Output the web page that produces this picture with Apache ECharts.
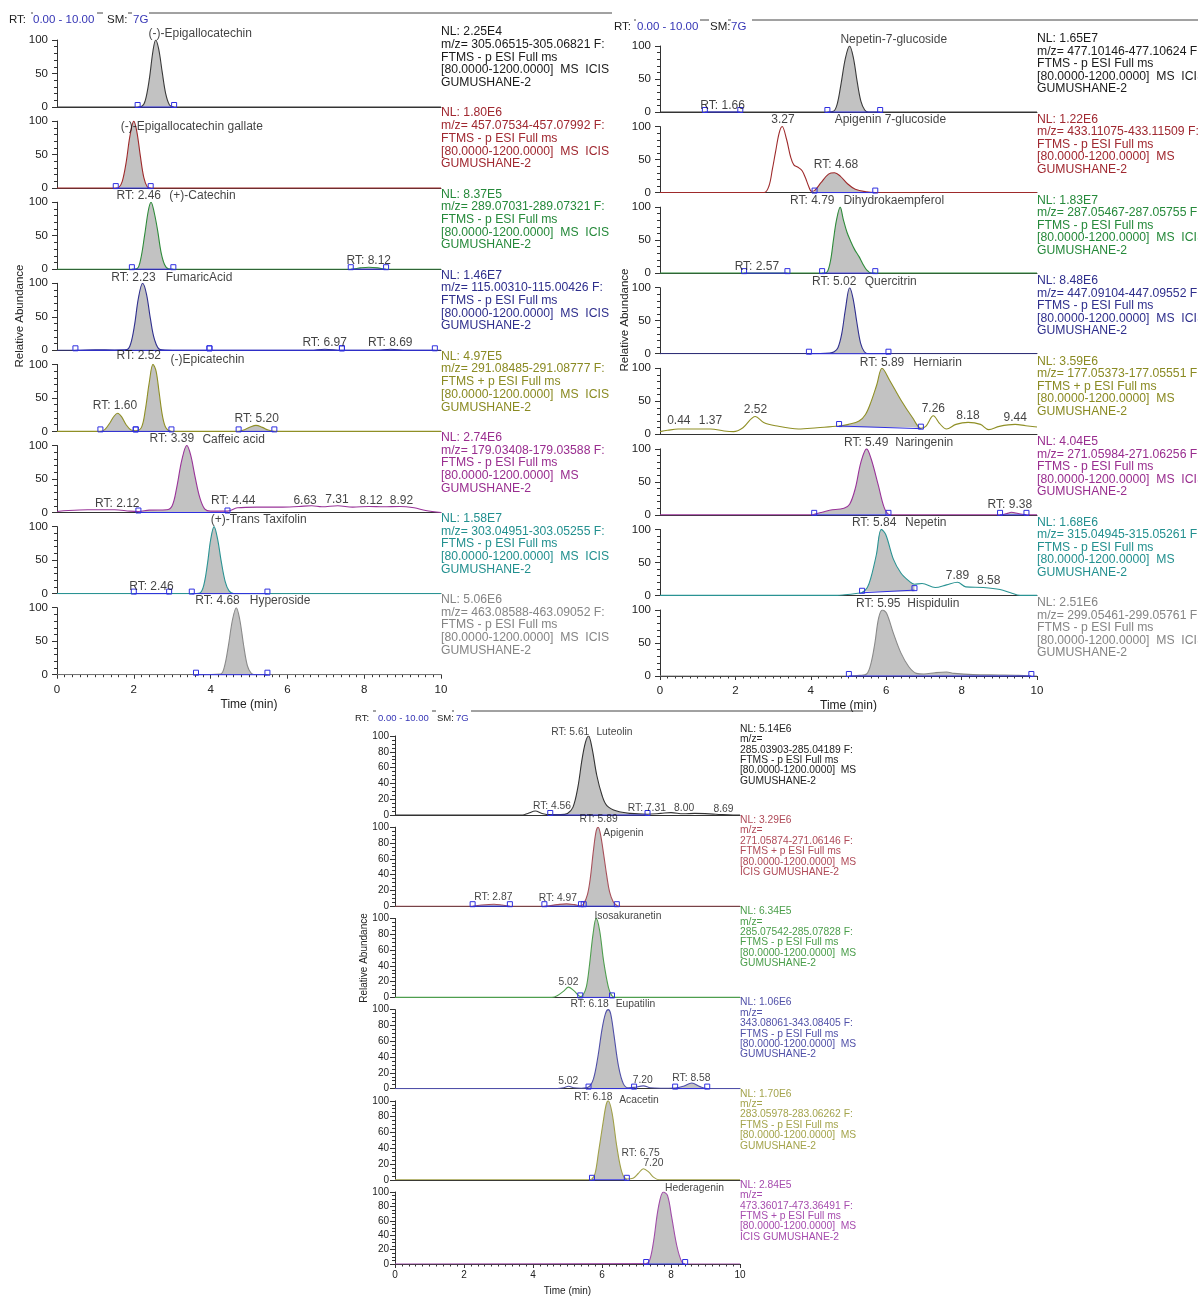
<!DOCTYPE html>
<html><head><meta charset="utf-8">
<script src="https://cdn.jsdelivr.net/npm/echarts@6/dist/echarts.min.js"></script>
<style>html,body{margin:0;padding:0;background:#fff}#c{width:1198px;height:1297px}</style>
</head><body><div id="c"></div>
<script>
// ================= DATA =================
// Traces: [time (min), relative abundance (%)]
// ---- left block ----
const epigallocatechin = [[0,0],[2.1,0],[2.21,1],[2.3,10],[2.4,40],[2.5,84],[2.57,100],[2.65,86],[2.74,52],[2.83,20],[2.93,3],[3.05,0],[10,0]];
const egcGallate = [[0,0],[1.53,0],[1.61,1],[1.7,10],[1.8,38],[1.9,78],[2.0,100],[2.08,84],[2.17,48],[2.26,16],[2.35,2],[2.44,0],[10,0]];
const catechin = [[0,0],[1.95,0],[2.09,1],[2.18,15],[2.28,50],[2.38,88],[2.45,100],[2.53,85],[2.62,58],[2.71,25],[2.8,7],[2.9,0.5],[3.03,0],[7.65,0],[7.9,2],[8.12,3],[8.35,2],[8.57,0],[10,0]];
const fumaricAcid = [[0,0],[0.48,0],[1.0,0.8],[1.5,0.5],[1.82,1],[1.92,10],[2.02,38],[2.12,78],[2.23,100],[2.33,84],[2.43,48],[2.54,16],[2.69,1],[3.0,0],[3.97,0],[6.6,0],[6.97,1.5],[7.42,0],[8.3,0],[8.69,1.5],[9.1,0],[9.84,0],[10,0]];
const epicatechin = [[0,0],[1.13,0],[1.25,3],[1.38,13],[1.49,23],[1.58,27],[1.68,22],[1.8,10],[1.93,2],[2.05,1],[2.2,6],[2.3,32],[2.4,72],[2.5,100],[2.58,90],[2.66,58],[2.75,22],[2.84,5],[2.98,0],[4.73,0],[4.9,3],[5.05,7],[5.18,9],[5.35,6],[5.5,2],[5.66,0],[10,0]];
const caffeicAcid = [[0,1.5],[0.3,3],[0.8,4],[1.5,4],[1.9,2],[2.12,1.5],[2.4,3.5],[2.85,4],[3.0,10],[3.12,38],[3.25,78],[3.38,100],[3.48,86],[3.6,52],[3.72,22],[3.85,5],[4.0,2],[4.44,2],[4.7,7],[5.2,8],[5.8,8],[6.3,9],[6.63,10],[6.9,8.5],[7.31,10],[7.7,8],[8.12,9],[8.5,8.5],[8.92,9],[9.3,7],[9.6,3],[10,0]];
const transTaxifolin = [[0,0],[3.51,0],[3.72,1],[3.82,12],[3.92,45],[4.0,80],[4.09,100],[4.18,82],[4.28,47],[4.38,18],[4.48,4],[4.6,0],[5.48,0],[10,0]];
const hyperoside = [[0,0],[3.62,0],[4.26,1],[4.36,12],[4.46,42],[4.57,82],[4.67,100],[4.76,82],[4.86,44],[4.96,13],[5.06,2],[5.15,0],[5.48,0],[10,0]];
// ---- right block ----
const nepetin7Glucoside = [[0,0],[4.44,0],[4.6,1],[4.7,12],[4.8,42],[4.92,82],[5.03,100],[5.13,82],[5.23,46],[5.33,16],[5.43,3],[5.52,0],[5.84,0],[10,0]];
const apigenin7Glucoside = [[0,0],[2.76,0],[2.89,10],[2.98,35],[3.06,60],[3.16,90],[3.24,100],[3.36,80],[3.46,55],[3.55,42],[3.67,38],[3.77,33],[3.86,22],[3.94,10],[4.02,2],[4.1,3],[4.27,15],[4.47,28],[4.63,30],[4.78,25],[4.98,13],[5.18,5],[5.48,1],[5.71,0],[10,0]];
const dihydrokaempferol = [[0,0],[4.3,0],[4.42,1],[4.52,18],[4.6,50],[4.68,80],[4.78,100],[4.86,82],[4.96,62],[5.06,48],[5.16,36],[5.28,25],[5.38,14],[5.48,5],[5.6,0],[5.71,0],[10,0]];
const quercitrin = [[0,0],[3.95,0],[4.5,1],[4.62,3],[4.72,9],[4.82,30],[4.92,68],[5.03,100],[5.12,84],[5.22,48],[5.32,16],[5.42,3],[5.52,0],[6.06,0],[10,0]];
const herniarin = [[0,4],[0.2,6],[0.48,8],[0.9,8],[1.34,8],[1.7,5],[1.95,4],[2.2,10],[2.53,27],[2.75,18],[3.06,13],[3.67,8],[4.17,10],[4.75,12.5],[5.0,15],[5.28,20],[5.45,30],[5.59,48],[5.75,75],[5.89,100],[6.09,82],[6.39,52],[6.7,25],[6.92,9],[7.05,12],[7.25,28],[7.42,16],[7.6,8],[7.85,15],[8.17,18],[8.5,15],[8.72,7],[9.0,12],[9.42,15],[9.7,13],[10,11]];
const naringenin = [[0,0],[4.0,0],[4.09,1],[4.3,4],[4.5,7],[4.88,10],[5.03,16],[5.18,40],[5.33,80],[5.48,100],[5.6,85],[5.79,45],[5.94,12],[6.06,1],[6.2,0],[9.02,0],[9.2,2],[9.32,4],[9.5,2],[9.72,0],[10,0]];
const nepetin = [[0,0],[4.7,0],[4.9,1],[5.2,3],[5.36,4.5],[5.5,12],[5.6,28],[5.74,62],[5.87,100],[5.99,92],[6.19,55],[6.39,34],[6.6,22],[6.75,17],[6.95,18],[7.3,12],[7.6,16],[7.89,20],[8.11,13],[8.58,12],[9.02,9],[9.3,4],[9.55,0],[10,0]];
const hispidulin = [[0,0],[5.01,0],[5.3,1],[5.48,3],[5.6,20],[5.7,50],[5.8,88],[5.9,100],[6.01,95],[6.19,65],[6.39,35],[6.6,14],[6.8,4],[7.0,3],[7.3,5],[7.6,6],[7.8,4],[8.3,2],[9.0,1.5],[9.5,1],[9.85,0],[10,0]];
// ---- bottom block ----
const luteolin = [[0,0],[3.7,0],[3.85,2],[4.07,5],[4.26,2],[4.5,0.5],[4.8,0.5],[5.0,2],[5.16,10],[5.3,35],[5.42,70],[5.52,92],[5.61,100],[5.71,85],[5.85,50],[6.0,25],[6.14,12],[6.43,5],[6.82,2],[7.32,1],[7.7,2],[8.0,3],[8.36,1.5],[8.69,2],[9.3,1],[9.8,0],[10,0]];
const apigenin = [[0,0],[2.25,0],[2.5,1.5],[2.87,2.5],[3.1,1.5],[3.33,0],[4.33,0],[4.7,2],[4.97,3],[5.2,2],[5.39,0.5],[5.47,3],[5.58,15],[5.66,35],[5.75,70],[5.83,95],[5.89,100],[5.96,90],[6.05,65],[6.14,38],[6.22,18],[6.32,6],[6.43,1],[6.55,0],[10,0]];
const isosakuranetin = [[0,0],[4.55,0],[4.7,2],[4.89,8],[5.03,13],[5.2,8],[5.37,1],[5.45,3],[5.55,14],[5.64,42],[5.74,80],[5.83,100],[5.93,85],[6.05,45],[6.19,12],[6.29,2],[6.4,0],[10,0]];
const eupatilin = [[0,0],[4.7,0],[4.89,1],[5.03,3],[5.18,1],[5.4,0.5],[5.61,2],[5.75,12],[5.88,40],[6.0,75],[6.1,95],[6.18,100],[6.25,95],[6.34,70],[6.48,28],[6.62,6],[6.77,1],[6.93,1.5],[7.2,3.5],[7.4,1],[7.7,0.5],[8.12,0.8],[8.36,3],[8.6,7],[8.84,2.5],[9.05,0],[10,0]];
const acacetin = [[0,0],[5.6,0],[5.71,1],[5.8,8],[5.9,35],[6.03,72],[6.12,95],[6.18,100],[6.29,85],[6.43,42],[6.58,9],[6.72,1],[6.9,2],[7.05,8],[7.2,14],[7.35,10],[7.5,3],[7.65,0],[10,0]];
const hederagenin = [[0,0],[7.28,0.5],[7.38,5],[7.49,30],[7.64,80],[7.78,100],[7.9,95],[8.02,65],[8.17,25],[8.31,3],[8.41,0],[10,0]];

// Integrated peak baselines: [tStart, yStart, tEnd, yEnd]
const segEpigallocatechin = [[2.1,0,3.05,0]];
const segEgcGallate = [[1.53,0,2.44,0]];
const segCatechin = [[1.95,0,3.03,0],[7.65,0,8.57,0]];
const segFumaricAcid = [[0.48,0,3.97,0],[3.97,0,7.42,0],[7.42,0,9.84,0]];
const segEpicatechin = [[1.13,0,2.05,0],[2.05,0,2.98,0],[4.73,0,5.66,0]];
const segCaffeicAcid = [[2.12,0,4.44,0]];
const segTransTaxifolin = [[2.0,0,2.92,0],[3.51,0,5.48,0]];
const segHyperoside = [[3.62,0,5.48,0]];
const segNepetin7Glucoside = [[1.19,0,2.13,0],[4.44,0,5.84,0]];
const segApigenin7Glucoside = [[4.1,0,5.71,0]];
const segDihydrokaempferol = [[2.23,0,3.38,0],[4.3,0,5.71,0]];
const segQuercitrin = [[3.95,0,6.06,0]];
const segHerniarin = [[4.75,12.5,6.92,8.5]];
const segNaringenin = [[4.09,0,6.06,0],[9.02,0,9.72,0]];
const segNepetin = [[5.36,4,6.75,8]];
const segHispidulin = [[5.01,0,9.85,0]];
const segLuteolin = [[4.5,0,7.32,0]];
const segApigenin = [[2.25,0,3.33,0],[4.33,0,5.39,0],[5.47,0,6.43,0]];
const segIsosakuranetin = [[5.37,0,6.29,0]];
const segEupatilin = [[5.61,0,6.93,0],[8.12,0,9.05,0]];
const segAcacetin = [[5.71,0,6.72,0]];
const segHederagenin = [[7.28,0,8.41,0]];

// Peak annotations: [time, abundance, text]
const lblEpigallocatechin = [[3.73,109,'(-)-Epigallocatechin']];
const lblEgcGallate = [[3.51,92,'(-)-Epigallocatechin gallate']];
const lblCatechin = [[2.13,110,'RT: 2.46'],[3.79,110,'(+)-Catechin'],[8.12,13,'RT: 8.12']];
const lblFumaricAcid = [[1.99,109,'RT: 2.23'],[3.70,109,'FumaricAcid'],[6.97,11,'RT: 6.97'],[8.68,11,'RT: 8.69']];
const lblEpicatechin = [[2.13,113,'RT: 2.52'],[3.92,107,'(-)Epicatechin'],[1.51,39,'RT: 1.60'],[5.2,19,'RT: 5.20']];
const lblCaffeicAcid = [[2.99,110,'RT: 3.39'],[4.6,109,'Caffeic acid'],[1.57,13,'RT: 2.12'],[4.59,18,'RT: 4.44'],[6.46,18,'6.63'],[7.29,19,'7.31'],[8.18,18,'8.12'],[8.97,17,'8.92']];
const lblTransTaxifolin = [[5.25,110,'(+)-Trans Taxifolin'],[2.46,11,'RT: 2.46']];
const lblHyperoside = [[4.18,110,'RT: 4.68'],[5.81,110,'Hyperoside']];
const lblNepetin7Glucoside = [[6.2,110,'Nepetin-7-glucoside'],[1.66,10,'RT: 1.66']];
const lblApigenin7Glucoside = [[3.26,110,'3.27'],[6.11,110,'Apigenin 7-glucoside'],[4.67,42,'RT: 4.68']];
const lblDihydrokaempferol = [[4.04,110,'RT: 4.79'],[6.2,110,'Dihydrokaempferol'],[2.57,10,'RT: 2.57']];
const lblQuercitrin = [[4.62,109,'RT: 5.02'],[6.12,109,'Quercitrin']];
const lblHerniarin = [[5.89,109,'RT: 5.89'],[7.36,109,'Herniarin'],[0.5,20,'0.44'],[1.34,20,'1.37'],[2.53,37,'2.52'],[7.25,39,'7.26'],[8.17,28,'8.18'],[9.42,25,'9.44']];
const lblNaringenin = [[5.47,110,'RT: 5.49'],[7.01,110,'Naringenin'],[9.28,15,'RT: 9.38']];
const lblNepetin = [[5.68,110,'RT: 5.84'],[7.05,110,'Nepetin'],[7.89,30,'7.89'],[8.72,22,'8.58']];
const lblHispidulin = [[5.79,110,'RT: 5.95'],[7.25,110,'Hispidulin']];
const lblLuteolin = [[5.08,105,'RT: 5.61'],[6.36,105,'Luteolin'],[4.55,11,'RT: 4.56'],[7.3,9,'RT: 7.31'],[8.38,9,'8.00'],[9.52,8,'8.69']];
const lblApigenin = [[5.9,110,'RT: 5.89'],[6.62,92,'Apigenin'],[2.85,11,'RT: 2.87'],[4.72,10,'RT: 4.97']];
const lblIsosakuranetin = [[6.75,103,'Isosakuranetin'],[5.03,19,'5.02']];
const lblEupatilin = [[5.64,107,'RT: 6.18'],[6.97,107,'Eupatilin'],[5.02,10,'5.02'],[7.18,11,'7.20'],[8.59,13,'RT: 8.58']];
const lblAcacetin = [[5.75,105,'RT: 6.18'],[7.07,101,'Acacetin'],[7.12,34,'RT: 6.75'],[7.49,21,'7.20']];
const lblHederagenin = [[8.68,106,'Hederagenin']];

// Scan description text
const infoEpigallocatechin = ['NL: 2.25E4','m/z= 305.06515-305.06821 F:','FTMS - p ESI Full ms','[80.0000-1200.0000]  MS  ICIS','GUMUSHANE-2'];
const infoEgcGallate = ['NL: 1.80E6','m/z= 457.07534-457.07992 F:','FTMS - p ESI Full ms','[80.0000-1200.0000]  MS  ICIS','GUMUSHANE-2'];
const infoCatechin = ['NL: 8.37E5','m/z= 289.07031-289.07321 F:','FTMS - p ESI Full ms','[80.0000-1200.0000]  MS  ICIS','GUMUSHANE-2'];
const infoFumaricAcid = ['NL: 1.46E7','m/z= 115.00310-115.00426 F:','FTMS - p ESI Full ms','[80.0000-1200.0000]  MS  ICIS','GUMUSHANE-2'];
const infoEpicatechin = ['NL: 4.97E5','m/z= 291.08485-291.08777 F:','FTMS + p ESI Full ms','[80.0000-1200.0000]  MS  ICIS','GUMUSHANE-2'];
const infoCaffeicAcid = ['NL: 2.74E6','m/z= 179.03408-179.03588 F:','FTMS - p ESI Full ms','[80.0000-1200.0000]  MS','GUMUSHANE-2'];
const infoTransTaxifolin = ['NL: 1.58E7','m/z= 303.04951-303.05255 F:','FTMS - p ESI Full ms','[80.0000-1200.0000]  MS  ICIS','GUMUSHANE-2'];
const infoHyperoside = ['NL: 5.06E6','m/z= 463.08588-463.09052 F:','FTMS - p ESI Full ms','[80.0000-1200.0000]  MS  ICIS','GUMUSHANE-2'];
const infoNepetin7Glucoside = ['NL: 1.65E7','m/z= 477.10146-477.10624 F:','FTMS - p ESI Full ms','[80.0000-1200.0000]  MS  ICIS','GUMUSHANE-2'];
const infoApigenin7Glucoside = ['NL: 1.22E6','m/z= 433.11075-433.11509 F:','FTMS - p ESI Full ms','[80.0000-1200.0000]  MS','GUMUSHANE-2'];
const infoDihydrokaempferol = ['NL: 1.83E7','m/z= 287.05467-287.05755 F:','FTMS - p ESI Full ms','[80.0000-1200.0000]  MS  ICIS','GUMUSHANE-2'];
const infoQuercitrin = ['NL: 8.48E6','m/z= 447.09104-447.09552 F:','FTMS - p ESI Full ms','[80.0000-1200.0000]  MS  ICIS','GUMUSHANE-2'];
const infoHerniarin = ['NL: 3.59E6','m/z= 177.05373-177.05551 F:','FTMS + p ESI Full ms','[80.0000-1200.0000]  MS','GUMUSHANE-2'];
const infoNaringenin = ['NL: 4.04E5','m/z= 271.05984-271.06256 F:','FTMS - p ESI Full ms','[80.0000-1200.0000]  MS  ICIS','GUMUSHANE-2'];
const infoNepetin = ['NL: 1.68E6','m/z= 315.04945-315.05261 F:','FTMS - p ESI Full ms','[80.0000-1200.0000]  MS','GUMUSHANE-2'];
const infoHispidulin = ['NL: 2.51E6','m/z= 299.05461-299.05761 F:','FTMS - p ESI Full ms','[80.0000-1200.0000]  MS  ICIS','GUMUSHANE-2'];
const infoLuteolin = ['NL: 5.14E6','m/z=','285.03903-285.04189 F:','FTMS - p ESI Full ms','[80.0000-1200.0000]  MS','GUMUSHANE-2'];
const infoApigenin = ['NL: 3.29E6','m/z=','271.05874-271.06146 F:','FTMS + p ESI Full ms','[80.0000-1200.0000]  MS','ICIS GUMUSHANE-2'];
const infoIsosakuranetin = ['NL: 6.34E5','m/z=','285.07542-285.07828 F:','FTMS - p ESI Full ms','[80.0000-1200.0000]  MS','GUMUSHANE-2'];
const infoEupatilin = ['NL: 1.06E6','m/z=','343.08061-343.08405 F:','FTMS - p ESI Full ms','[80.0000-1200.0000]  MS','GUMUSHANE-2'];
const infoAcacetin = ['NL: 1.70E6','m/z=','283.05978-283.06262 F:','FTMS - p ESI Full ms','[80.0000-1200.0000]  MS','GUMUSHANE-2'];
const infoHederagenin = ['NL: 2.84E5','m/z=','473.36017-473.36491 F:','FTMS + p ESI Full ms','[80.0000-1200.0000]  MS','ICIS GUMUSHANE-2'];

// Axis tick labels
const xTickLabels = ['0','2','4','6','8','10'];

// ================= STYLE / LAYOUT =================
const FONT = '"Liberation Sans", Arial, Helvetica, sans-serif';
const COL = {
  black:  {line:'#3a3a3a', text:'#1a1a1a'},
  red:    {line:'#9e2a2b', text:'#a02830'},
  green:  {line:'#2e8b3a', text:'#25893a'},
  navy:   {line:'#30308f', text:'#2e2e8c'},
  olive:  {line:'#8f8f25', text:'#8a8a22'},
  purple: {line:'#993399', text:'#992d8f'},
  teal:   {line:'#2a9393', text:'#22908f'},
  gray:   {line:'#8a8a8a', text:'#858585'}
};
const COLB = {
  black:  {line:'#333333', text:'#222222'},
  red:    {line:'#a8505a', text:'#b04a58'},
  green:  {line:'#4e9e4e', text:'#4a9e4a'},
  navy:   {line:'#5050a8', text:'#5050a8'},
  olive:  {line:'#a0a048', text:'#a4a44c'},
  purple: {line:'#a04ca8', text:'#a64cae'}
};
const BLUE = '#2f2fe0';

const leftPanels = [
  [epigallocatechin, segEpigallocatechin, lblEpigallocatechin, infoEpigallocatechin, COL.black],
  [egcGallate, segEgcGallate, lblEgcGallate, infoEgcGallate, COL.red],
  [catechin, segCatechin, lblCatechin, infoCatechin, COL.green],
  [fumaricAcid, segFumaricAcid, lblFumaricAcid, infoFumaricAcid, COL.navy],
  [epicatechin, segEpicatechin, lblEpicatechin, infoEpicatechin, COL.olive],
  [caffeicAcid, segCaffeicAcid, lblCaffeicAcid, infoCaffeicAcid, COL.purple],
  [transTaxifolin, segTransTaxifolin, lblTransTaxifolin, infoTransTaxifolin, COL.teal],
  [hyperoside, segHyperoside, lblHyperoside, infoHyperoside, COL.gray]
];
const rightPanels = [
  [nepetin7Glucoside, segNepetin7Glucoside, lblNepetin7Glucoside, infoNepetin7Glucoside, COL.black],
  [apigenin7Glucoside, segApigenin7Glucoside, lblApigenin7Glucoside, infoApigenin7Glucoside, COL.red],
  [dihydrokaempferol, segDihydrokaempferol, lblDihydrokaempferol, infoDihydrokaempferol, COL.green],
  [quercitrin, segQuercitrin, lblQuercitrin, infoQuercitrin, COL.navy],
  [herniarin, segHerniarin, lblHerniarin, infoHerniarin, COL.olive],
  [naringenin, segNaringenin, lblNaringenin, infoNaringenin, COL.purple],
  [nepetin, segNepetin, lblNepetin, infoNepetin, COL.teal],
  [hispidulin, segHispidulin, lblHispidulin, infoHispidulin, COL.gray]
];
const bottomPanels = [
  [luteolin, segLuteolin, lblLuteolin, infoLuteolin, COLB.black],
  [apigenin, segApigenin, lblApigenin, infoApigenin, COLB.red],
  [isosakuranetin, segIsosakuranetin, lblIsosakuranetin, infoIsosakuranetin, COLB.green],
  [eupatilin, segEupatilin, lblEupatilin, infoEupatilin, COLB.navy],
  [acacetin, segAcacetin, lblAcacetin, infoAcacetin, COLB.olive],
  [hederagenin, segHederagenin, lblHederagenin, infoHederagenin, COLB.purple]
];

const blocks = [
  {panels:leftPanels, left:57, width:384, top:40, pitch:81.1, height:67, yInt:50, ySplit:5, fs:11.5, lblFs:12,
   infoX:441, infoDy:-8, infoLH:12.7, infoFs:12.2, labMargin:9, nameGap:24, nameFs:12, ylab:[20,316], ylabFs:11.5,
   header:{x:9, y:20, fs:11.5, offs:[0,24,98,124], lineY:13, lineX:[149,612], dashes:[[22,24],[88,94],[119,123]]}},
  {panels:rightPanels, left:660, width:377, top:46, pitch:80.57, height:66, yInt:50, ySplit:5, fs:11.5, lblFs:12,
   infoX:1037, infoDy:-7, infoLH:12.5, infoFs:12.2, labMargin:9, nameGap:24, nameFs:12, ylab:[625,320], ylabFs:11.5,
   header:{x:614, y:27, fs:11.5, offs:[0,23,96,117], lineY:20, lineX:[752,1198], dashes:[[20,22],[86,95],[114,117]]}},
  {panels:bottomPanels, left:395, width:345, top:736, pitch:91.2, height:79, yInt:20, ySplit:4, fs:10, lblFs:10.3,
   infoX:740, infoDy:-7, infoLH:10.4, infoFs:10.3, labMargin:6, nameGap:22, nameFs:10, ylab:[364,958], ylabFs:10,
   header:{x:355, y:718, fs:9.5, offs:[0,23,82,101], lineY:711, lineX:[471,863], dashes:[[18,21],[77,81],[97,99]]}}
];

// ================= BUILD =================
const grid=[], xAxis=[], yAxis=[], series=[], graphic=[];

function segRender(params, api){
  const p0 = api.coord([api.value(0), api.value(1)]);
  const p1 = api.coord([api.value(2), api.value(3)]);
  const s = 5;
  return {type:'group', children:[
    {type:'line', shape:{x1:p0[0],y1:p0[1],x2:p1[0],y2:p1[1]}, style:{stroke:BLUE, lineWidth:1}},
    {type:'rect', shape:{x:p0[0]-s/2, y:p0[1]-s+0.5, width:s, height:s}, style:{stroke:BLUE, fill:'rgba(255,255,255,0)', lineWidth:1}},
    {type:'rect', shape:{x:p1[0]-s/2, y:p1[1]-s+0.5, width:s, height:s}, style:{stroke:BLUE, fill:'rgba(255,255,255,0)', lineWidth:1}}
  ]};
}

blocks.forEach(b => {
  const n = b.panels.length;
  b.panels.forEach((p, i) => {
    const [trace, segs, lbls, info, col] = p;
    const gi = grid.length;
    const last = i === n - 1;
    const top = b.top + i * b.pitch;
    grid.push({left:b.left, top:top, width:b.width, height:b.height});
    xAxis.push({
      gridIndex:gi, type:'value', min:0, max:10, interval:2,
      axisLine:{show:true, onZero:false, lineStyle:{color:'#333', width:1}},
      axisTick:{show:last, length:4, lineStyle:{color:'#333'}},
      minorTick:{show:last, splitNumber:10, length:2.5, lineStyle:{color:'#333'}},
      axisLabel:{show:last, margin:b.labMargin, fontSize:b.fs, fontFamily:FONT, color:'#222',
        formatter:(v)=> xTickLabels[Math.round(v/2)] || ''},
      splitLine:{show:false}, minorSplitLine:{show:false},
      name: last ? 'Time (min)' : '', nameLocation:'middle', nameGap:b.nameGap,
      nameTextStyle:{fontSize:b.nameFs, fontFamily:FONT, color:'#222'}
    });
    yAxis.push({
      gridIndex:gi, type:'value', min:0, max:100, interval:b.yInt,
      axisLine:{show:true, lineStyle:{color:'#333', width:1}},
      axisTick:{show:true, length:5, lineStyle:{color:'#333'}},
      minorTick:{show:true, splitNumber:b.ySplit, length:3, lineStyle:{color:'#333'}},
      axisLabel:{margin:b.labMargin, fontSize:b.fs, fontFamily:FONT, color:'#222'},
      splitLine:{show:false}, minorSplitLine:{show:false}
    });
    // gray fill of the integrated peaks
    segs.forEach(s => {
      const pts = trace.filter(d => d[0] >= s[0] - 1e-9 && d[0] <= s[2] + 1e-9);
      if (pts.length < 2) return;
      series.push({type:'line', xAxisIndex:gi, yAxisIndex:gi, data:pts, smooth:0.35, symbol:'none', silent:true,
        lineStyle:{width:0, opacity:0}, areaStyle:{color:'#c2c2c2', opacity:1, origin:(s[1]+s[3])/2}, z:2});
    });
    // trace
    series.push({type:'line', xAxisIndex:gi, yAxisIndex:gi, data:trace, smooth:0.35, symbol:'none', silent:true,
      lineStyle:{color:col.line, width:1.1}, z:3});
    // integration baselines
    series.push({type:'custom', xAxisIndex:gi, yAxisIndex:gi, coordinateSystem:'cartesian2d', data:segs,
      encode:{x:[0,2], y:[1,3]}, renderItem:segRender, silent:true, z:4, clip:false});
    // annotations
    series.push({type:'scatter', xAxisIndex:gi, yAxisIndex:gi, clip:false, silent:true, symbolSize:1,
      itemStyle:{color:'rgba(0,0,0,0)'}, z:5,
      data: lbls.map(l => ({value:[l[0], l[1]], name:l[2]})),
      label:{show:true, position:'inside', formatter:'{b}', color:'#111', fontSize:b.lblFs, fontFamily:FONT}});
    // info text
    graphic.push({type:'text', silent:true, x:b.infoX, y:top + b.infoDy - b.infoLH/2,
      style:{text:info.join('\n'), fill:col.text, fontSize:b.infoFs, fontFamily:FONT, lineHeight:b.infoLH, verticalAlign:'top', align:'left'}});
  });
  // Relative Abundance
  graphic.push({type:'text', silent:true, x:b.ylab[0], y:b.ylab[1], rotation:Math.PI/2,
    style:{text:'Relative Abundance', fill:'#222', fontSize:b.ylabFs, fontFamily:FONT, align:'center', verticalAlign:'middle'}});
  // header
  const h = b.header;
  graphic.push({type:'line', silent:true, shape:{x1:h.lineX[0], y1:h.lineY, x2:h.lineX[1], y2:h.lineY}, style:{stroke:'#444', lineWidth:1}});
  h.dashes.forEach(d => graphic.push({type:'line', silent:true, shape:{x1:h.x+d[0], y1:h.lineY, x2:h.x+d[1], y2:h.lineY}, style:{stroke:'#444', lineWidth:1}}));
  const parts = [['RT:','#222'],['0.00 - 10.00','#3535b5'],['SM:','#222'],['7G','#3535b5']];
  parts.forEach((pt, k) => graphic.push({type:'text', silent:true, x:h.x + h.offs[k], y:h.y,
    style:{text:pt[0], fill:pt[1], fontSize:h.fs, fontFamily:FONT, verticalAlign:'middle', align:'left'}}));
});

const chart = echarts.init(document.getElementById('c'), null, {renderer:'canvas'});
chart.setOption({animation:false, backgroundColor:'#fff', grid, xAxis, yAxis, series, graphic});
</script></body></html>
